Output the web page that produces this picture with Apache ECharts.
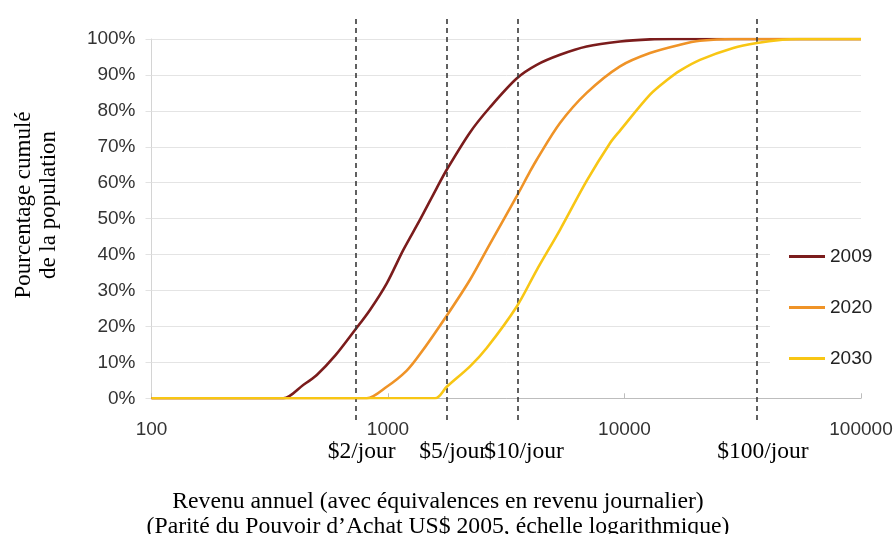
<!DOCTYPE html>
<html>
<head>
<meta charset="utf-8">
<script src="https://cdn.jsdelivr.net/npm/echarts@6/dist/echarts.min.js"></script>
<style>
  html, body { margin: 0; padding: 0; background: #fff; }
  #chart { width: 896px; height: 534px; }
</style>
</head>
<body>
<div id="chart"></div>
<script>
// Revenu annuel (PPA US$ 2005) and cumulative % of population
const income2009 = [100, 361, 438, 500, 600, 725, 839, 988, 1161, 1366, 1607, 1771, 2222, 2699, 3499, 4254, 5337, 6918, 9572, 12820, 16000, 100000];
const pct2009    = [0,   0,   3.7, 6.5, 12,  19,  24.6, 32, 41.3, 49.7, 58.5, 63.6, 74,  81,   89,   92.8, 95.6, 97.9, 99.3, 99.9,  100,   100];

const income2020 = [100, 813, 988, 1200, 1366, 1771, 2222, 2699, 3499, 3977, 4254, 5337, 6918, 9572, 12820, 17170, 20850, 28900, 100000];
const pct2020    = [0,   0,   3.2, 7.7,  12.3, 23,   33,   43,   56.2, 63,   66.4, 76.6, 85,   92.4, 96.1,  98.4,  99.5,  100,   100];

const income2030 = [100, 1580, 1771, 2222, 2614, 3499, 4254, 5337, 6918, 8680, 9572, 12820, 15080, 17170, 20850, 28840, 36300, 46500, 55000, 100000];
const pct2030    = [0,   0,    3.2,  8.9,  14,   25.5, 35.7, 46.9, 60.5, 71,   74.5, 84.5,  88.5,  91.2,  94.2,  97.5,  98.9,  99.8,  100,   100];

const seriesNames = ['2009', '2020', '2030'];
const seriesColors = ['#7B1C1C', '#EF9327', '#F8C614'];

const thresholdNames  = ['$2/jour', '$5/jour', '$10/jour', '$100/jour'];
const thresholdValues = [730, 1780, 3550, 36300];

const zip = (xs, ys) => xs.map((x, i) => [x, ys[i]]);
const dataSets = [zip(income2009, pct2009), zip(income2020, pct2020), zip(income2030, pct2030)];

const SANS = '"Liberation Sans", Arial, sans-serif';
const SERIF = '"Liberation Serif", "Times New Roman", serif';

const chart = echarts.init(document.getElementById('chart'), null, { renderer: 'canvas' });

const curveSeries = seriesNames.map((name, i) => ({
  name: name,
  type: 'line',
  xAxisIndex: 0,
  yAxisIndex: 0,
  data: dataSets[i],
  showSymbol: false,
  symbol: 'none',
  smooth: 0.3,
  lineStyle: { color: seriesColors[i], width: 2.6 },
  itemStyle: { color: seriesColors[i] },
  z: 3 + i
}));

const option = {
  animation: false,
  backgroundColor: '#fff',
  grid: [
    { left: 151.5, right: 35, top: 39, bottom: 135.7 },
    { left: 151.5, right: 35, top: 15, bottom: 114 }
  ],
  xAxis: [
    {
      type: 'log', logBase: 10, min: 100, max: 100000, gridIndex: 0,
      axisLine: { show: true, lineStyle: { color: '#bdbdbd', width: 1 } },
      axisTick: { show: true, inside: true, length: 5, lineStyle: { color: '#bdbdbd' } },
      axisLabel: {
        margin: 22, fontSize: 19, fontFamily: SANS, color: '#333',
        formatter: v => String(Math.round(v))
      },
      splitLine: { show: false }
    },
    { type: 'log', logBase: 10, min: 100, max: 100000, gridIndex: 1, show: false }
  ],
  yAxis: [
    {
      type: 'value', min: 0, max: 100, interval: 10, gridIndex: 0,
      axisLine: { show: true, lineStyle: { color: '#d4d4d4' } },
      axisTick: { show: true, length: 6, lineStyle: { color: '#e2e2e2' } },
      axisLabel: { margin: 16, fontSize: 19, fontFamily: SANS, color: '#333', formatter: '{value}%' },
      splitLine: { show: true, lineStyle: { color: '#e4e4e4', width: 1 } }
    },
    { type: 'value', min: 0, max: 1, gridIndex: 1, show: false }
  ],
  legend: {
    data: seriesNames,
    orient: 'vertical',
    left: 770,
    top: 235,
    padding: [12, 10, 12, 19],
    backgroundColor: '#fff',
    icon: 'rect',
    itemWidth: 36,
    itemHeight: 3,
    itemGap: 32,
    textStyle: { fontSize: 19, fontFamily: SANS, color: '#222' },
    z: 10
  },
  series: curveSeries.concat([{
    name: 'seuils',
    type: 'line',
    xAxisIndex: 1,
    yAxisIndex: 1,
    data: [],
    z: 8,
    markLine: {
      silent: true,
      symbol: ['none', 'none'],
      animation: false,
      lineStyle: { color: '#3a3a3a', width: 1.6, type: [5, 4] },
      label: {
        show: true, position: 'start', distance: 20,
        fontFamily: SERIF, fontSize: 23.5, color: '#000',
        offset: [6, 0],
        formatter: p => p.name
      },
      emphasis: { disabled: true },
      data: thresholdValues.map((v, i) => ({ name: thresholdNames[i], xAxis: v }))
    }
  }]),
  graphic: [
    {
      type: 'text', x: 36, y: 205, rotation: Math.PI / 2,
      style: {
        text: 'Pourcentage cumulé\nde la population',
        fontFamily: SERIF, fontSize: 23, fill: '#000',
        align: 'center', verticalAlign: 'middle', lineHeight: 25
      }
    },
    {
      type: 'text', x: 438, y: 514.5,
      style: {
        text: 'Revenu annuel (avec équivalences en revenu journalier)\n(Parité du Pouvoir d’Achat US$ 2005, échelle logarithmique)',
        fontFamily: SERIF, fontSize: 23.7, fill: '#000',
        align: 'center', verticalAlign: 'middle', lineHeight: 25
      }
    }
  ]
};

chart.setOption(option);
</script>
</body>
</html>
